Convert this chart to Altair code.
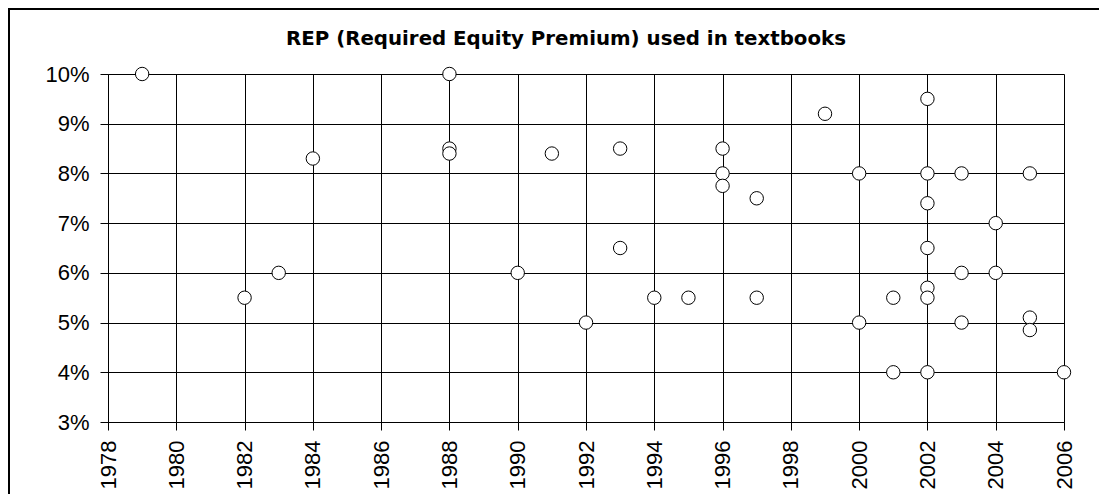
import altair as alt
import pandas as pd

years = [1979, 1982, 1983, 1984, 1988, 1988, 1988, 1990, 1991, 1992,
         1993, 1993, 1994, 1995, 1996, 1996, 1996, 1997, 1997, 1999,
         2000, 2000, 2001, 2001, 2002, 2002, 2002, 2002, 2002, 2002,
         2002, 2003, 2003, 2003, 2004, 2004, 2005, 2005, 2005, 2006]
rep = [10, 5.5, 6, 8.3, 10, 8.5, 8.4, 6, 8.4, 5,
       8.5, 6.5, 5.5, 5.5, 8.5, 8, 7.75, 7.5, 5.5, 9.2,
       8, 5, 5.5, 4, 9.5, 8, 7.4, 6.5, 5.7, 5.5,
       4, 8, 6, 5, 7, 6, 8, 5.1, 4.85, 4]

x_ticks = list(range(1978, 2007, 2))
y_ticks = [3, 4, 5, 6, 7, 8, 9, 10]
title_text = "REP (Required Equity Premium) used in textbooks"

df = pd.DataFrame({"year": years, "rep": rep})

W, H = 956, 348

points = alt.Chart(df).mark_point(
    shape="circle", filled=True, fill="white", stroke="black",
    strokeWidth=1, size=180, opacity=1
).encode(
    x=alt.X("year:Q",
            scale=alt.Scale(domain=[1978, 2006], nice=False, zero=False),
            axis=alt.Axis(values=x_ticks, format="d", title=None,
                          labelAngle=270, labelAlign="right", labelBaseline="middle",
                          labelPadding=10, tickSize=8, tickColor="black",
                          domainColor="black", gridColor="black", grid=True,
                          labelFont="Liberation Sans", labelFontSize=22,
                          labelColor="black", labelFlush=False, labelOverlap=False)),
    y=alt.Y("rep:Q",
            scale=alt.Scale(domain=[3, 10], nice=False, zero=False),
            axis=alt.Axis(values=y_ticks, labelExpr="datum.value + '%'", title=None,
                          labelPadding=11, tickSize=8, tickColor="black",
                          domainColor="black", gridColor="black", grid=True,
                          labelFont="Liberation Sans", labelFontSize=22,
                          labelColor="black", labelFlush=False, labelOverlap=False)),
)

frame = alt.Chart(pd.DataFrame({"a": [0]})).mark_rect(
    fill=None, stroke="black", strokeWidth=2
).encode(
    x=alt.value(-99), x2=alt.value(1300),
    y=alt.value(-65), y2=alt.value(700),
)

title = alt.Chart(pd.DataFrame({"t": [title_text]})).mark_text(
    font="DejaVu Sans", fontSize=19.8, fontWeight="bold", color="black",
    align="center", baseline="alphabetic"
).encode(
    text="t:N", x=alt.value(458), y=alt.value(-29),
)

chart = alt.layer(frame, points, title).properties(
    width=W, height=H,
    autosize=alt.AutoSizeParams(type="none"),
    padding={"left": 100, "top": 66, "right": 35, "bottom": 72},
).configure_view(
    stroke="#808080", strokeWidth=1
).configure(background="white")

chart.save("out.html", embed_options={"renderer": "svg", "actions": False})
